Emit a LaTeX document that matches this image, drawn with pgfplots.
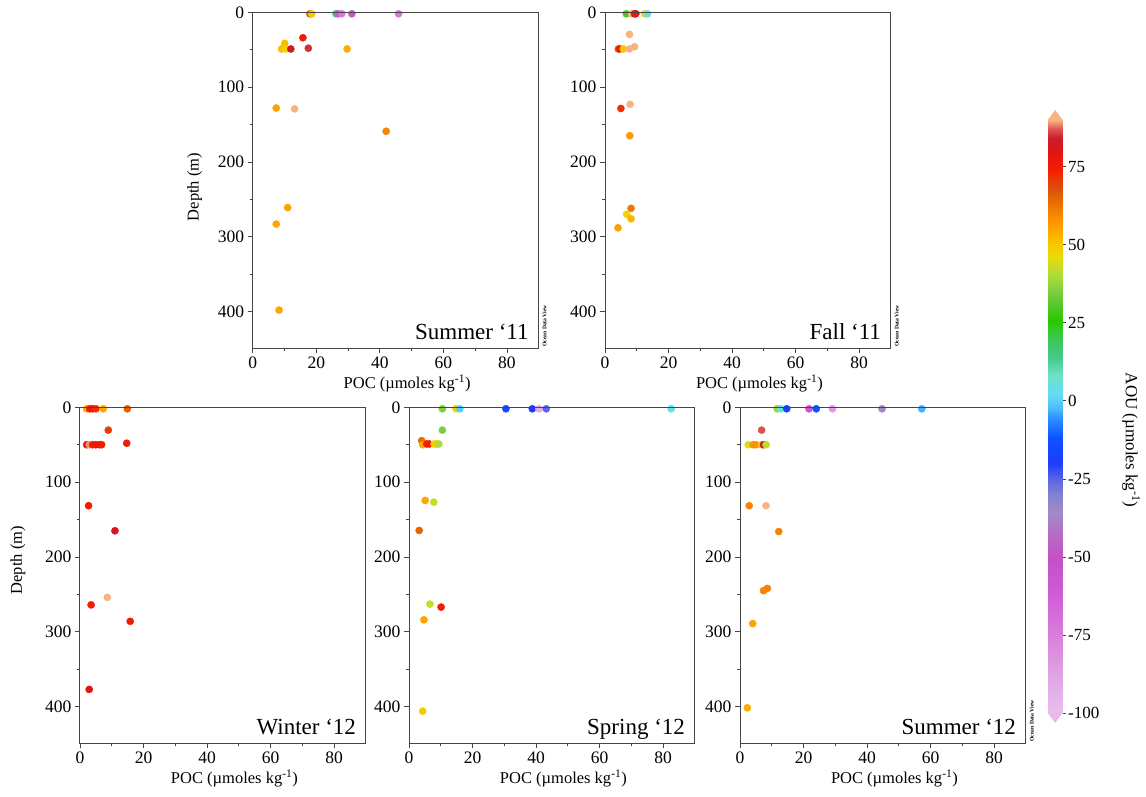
\documentclass[border=0pt]{standalone}
\usepackage{fontspec}
\setmainfont{Liberation Serif}
\usepackage{pgfplots}
\pgfplotsset{compat=1.18}

\definecolor{axgray}{RGB}{70,70,70}

% ODV-like AOU palette, position = (AOU+100)/10 cm
\pgfplotsset{
  colormap={aou}{
    rgb255(0cm)=(232,190,236) rgb255(1cm)=(226,170,230) rgb255(2cm)=(220,140,224)
    rgb255(3cm)=(214,112,220) rgb255(4cm)=(206,88,212) rgb255(5cm)=(196,80,200)
    rgb255(5.8cm)=(180,110,196) rgb255(6.4cm)=(160,140,196) rgb255(7cm)=(130,130,210)
    rgb255(7.5cm)=(90,100,230) rgb255(8cm)=(30,60,250) rgb255(8.8cm)=(16,80,255)
    rgb255(9.4cm)=(40,140,255) rgb255(9.8cm)=(80,190,250) rgb255(10.2cm)=(100,220,240)
    rgb255(10.8cm)=(110,225,200) rgb255(11.4cm)=(70,200,140) rgb255(12cm)=(60,200,80)
    rgb255(12.6cm)=(40,200,0) rgb255(13.3cm)=(110,200,60) rgb255(14cm)=(170,220,60)
    rgb255(14.6cm)=(230,220,10) rgb255(15cm)=(250,200,0) rgb255(15.6cm)=(255,160,0)
    rgb255(16.2cm)=(240,120,0) rgb255(16.8cm)=(220,80,10) rgb255(17.4cm)=(245,30,0)
    rgb255(18cm)=(225,20,20) rgb255(18.4cm)=(200,30,40) rgb255(18.7cm)=(220,80,80)
    rgb255(19cm)=(245,180,130)
  },
  podv/.style={
    scale only axis, width=286pt, height=336pt, anchor=south west,
    xmin=0, xmax=90, ymin=0, ymax=449, y dir=reverse,
    xtick={0,20,...,80}, ytick={0,100,...,400},
    minor x tick num=1, minor y tick num=1,
    tick align=outside, xtick pos=left, ytick pos=left,
    major tick length=5pt, minor tick length=3pt,
    axis line style={axgray, line width=1pt},
    every tick/.style={axgray, line width=0.8pt},
    axis on top, clip mode=individual,
    colormap name=aou, point meta min=-100, point meta max=90,
    tick label style={font=\fontsize{17.5}{18}\selectfont},
    /pgf/number format/assume math mode=true,
    xlabel={POC (µmoles kg\textsuperscript{-1})},
    xlabel style={at={(axis description cs:0.54,-0.105)}, anchor=center,
      font=\fontsize{16.5}{17}\selectfont},
    ylabel style={font=\fontsize{16.5}{17}\selectfont},
  },
  pts/.style={scatter, only marks, mark=*, mark size=3.6pt,
    scatter/use mapped color={draw=mapped color, fill=mapped color},
    point meta=explicit},
}

\newcommand{\plabel}[1]{\node[anchor=base east, font=\fontsize{23}{23}\selectfont]
  at ([xshift=-6.5pt,yshift=9pt]rel axis cs:1,0) {#1};}
\newcommand{\odv}{\node[rotate=90, anchor=north west, inner sep=0pt, font=\fontsize{5.6}{5.6}\selectfont\bfseries]
  at ([xshift=3.5pt,yshift=1.5pt]rel axis cs:1,0) {Ocean Data View};}

\begin{document}
\begin{tikzpicture}[x=1pt,y=1pt]
\path[use as bounding box] (0,0) rectangle (1146,797);

% Summer '11
\begin{axis}[podv, at={(252.7pt,448.7pt)},
  ylabel={Depth (m)},
  ylabel style={at={(axis description cs:-0.203,0.48)}, anchor=center}]
\addplot[pts] table[meta=a] {
x d a
18.0 2 66
18.6 2 50
26.2 2 15
26.9 2 -60
28.0 2 -72
31.2 2 -55
45.9 2 -72
15.8 34 76
10.1 41.5 52
9.1 49 52
10.5 49 48
12.0 49 83
17.5 48 85
29.7 49 54
7.4 128 56
13.2 129 90
42.0 159 60
11.0 261 56
7.4 283 55
8.3 398 55
};
\plabel{Summer ‘11}
\odv
\end{axis}

% Fall '11
\begin{axis}[podv, at={(605pt,448.7pt)}]
\addplot[pts] table[meta=a] {
x d a
6.7 2 30
8.4 2 90
9.3 2 84
9.7 2 78
12.5 2 48
13.4 2 3
7.7 29.5 90
4.2 49 68
4.7 49 75
5.8 49 50
7.7 49 90
9.3 46 90
7.9 123 90
5.0 128.5 72
7.8 165 57
8.2 262 62
6.8 270 48
8.2 276 53
4.1 288 56
};
\plabel{Fall ‘11}
\odv
\end{axis}

% Winter '12
\begin{axis}[podv, at={(80pt,53.7pt)},
  ylabel={Depth (m)},
  ylabel style={at={(axis description cs:-0.217,0.545)}, anchor=center}]
\addplot[pts] table[meta=a] {
x d a
2.1 2 55
3.1 2 76
4.0 2 76
5.0 2 72
7.3 2 55
14.9 2 66
8.9 30.5 70
2.1 50 80
2.9 50 89
4.0 50 75
5.0 50 76
6.1 50 77
6.8 50 75
14.7 48 75
2.7 131.5 75
11.0 165 82
8.6 254 90
3.5 264 75
15.8 286 75
2.9 377 80
};
\plabel{Winter ‘12}
\end{axis}

% Spring '12
\begin{axis}[podv, at={(409pt,53.7pt)}]
\addplot[pts] table[meta=a] {
x d a
10.5 2 35
14.8 2 48
16.0 2 0
30.5 2 -15
38.8 2 -20
40.9 2 -90
43.2 2 -25
82.5 2 3
10.5 30.5 35
4.0 44.6 64
4.3 50 55
5.6 49 75
6.4 49 75
7.9 49 48
8.7 49 50
9.4 49 40
5.1 124.5 55
7.8 126.7 43
3.2 164.6 65
6.6 263 43
10.1 267 75
4.7 284 56
4.3 406 50
};
\plabel{Spring ‘12}
\end{axis}

% Summer '12
\begin{axis}[podv, at={(740pt,53.7pt)}]
\addplot[pts] table[meta=a] {
x d a
11.7 2 38
12.8 2 5
14.7 2 -18
21.7 2 -55
24.0 2 -12
29.1 2 -85
44.7 2 -37
57.2 2 -3
6.8 30.5 87
2.6 50 45
4.2 50 58
5.0 50 58
6.8 50 45
7.4 50 83
8.2 50 42
2.9 131.5 60
8.2 131.5 90
12.2 166 60
7.4 245 60
8.6 242 60
4.0 289 56
2.3 401.6 54
};
\plabel{Summer ‘12}
\odv
\end{axis}

% colour bar
\begin{axis}[at={(1047.7pt,84pt)}, anchor=south west, scale only axis,
  width=15pt, height=593pt, xmin=0, xmax=1, ymin=-100, ymax=90,
  axis line style={draw=none}, xtick=\empty,
  ytick={-100,-75,...,75}, yticklabels={-100,-75,-50,-25,0,25,50,75},
  ytick pos=right, yticklabel pos=right, tick align=outside,
  major tick length=3pt, every tick/.style={axgray, line width=0.8pt},
  yticklabel style={font=\fontsize{17}{17}\selectfont, anchor=west, xshift=-1pt},
  colormap name=aou, point meta min=-100, point meta max=90, clip=false]
\addplot[surf, shader=interp, mesh/cols=2, point meta=y] coordinates {
(0,-100) (1,-100)
(0,90) (1,90)
};
\fill[color={rgb,255:red,245;green,180;blue,130}] (axis cs:0,90) -- (axis cs:1,90) -- (axis cs:0.5,93.2) -- cycle;
\fill[color={rgb,255:red,232;green,184;blue,236}] (axis cs:0,-100) -- (axis cs:1,-100) -- (axis cs:0.5,-103.2) -- cycle;
\end{axis}
\node[rotate=-90, font=\fontsize{17}{17}\selectfont] at (1131,357) {AOU (µmoles kg\textsuperscript{-1})};
\end{tikzpicture}
\end{document}
